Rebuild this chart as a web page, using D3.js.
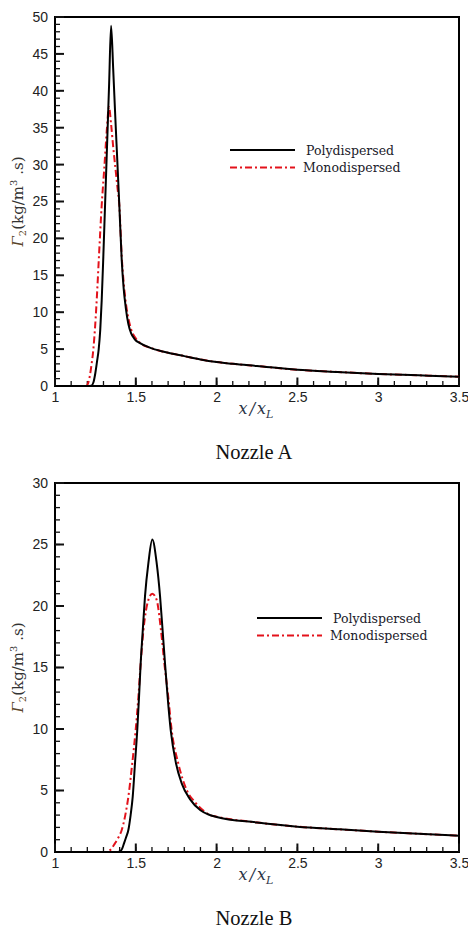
<!DOCTYPE html>
<html><head><meta charset="utf-8">
<script src="https://cdn.jsdelivr.net/npm/d3@7"></script>
<style>body{margin:0;background:#fff}svg{display:block}</style>
</head><body>
<script>
// ---- Data ----
const xTicks = [1, 1.5, 2, 2.5, 3, 3.5];
const yTicksA = [0, 5, 10, 15, 20, 25, 30, 35, 40, 45, 50];
const yTicksB = [0, 5, 10, 15, 20, 25, 30];
const seriesNames = ["Polydispersed", "Monodispersed"];
const titles = ["Nozzle A", "Nozzle B"];

// Nozzle A
const polyAx = [1.0,1.2,1.225,1.238,1.25,1.26,1.27,1.28,1.289,1.299,1.309,1.322,1.335,1.347,1.36,1.373,1.386,1.398,1.413,1.425,1.438,1.454,1.47,1.495,1.526,1.6,1.7,1.8,1.9,2.0,2.1,2.25,2.5,2.75,3.0,3.25,3.5];
const polyAy = [0,0,0.05,0.5,1.8,3.3,4.9,7.6,11.6,17.5,24,32.5,41,48.8,43,36.5,30.3,24.5,17,13.2,10.6,8.4,7.2,6.3,5.8,5.1,4.5,4.05,3.6,3.25,3.0,2.7,2.2,1.9,1.63,1.45,1.26];
const monoAx = [1.0,1.18,1.196,1.205,1.215,1.226,1.237,1.248,1.258,1.273,1.289,1.305,1.32,1.334,1.347,1.361,1.375,1.388,1.398,1.413,1.425,1.44,1.456,1.472,1.495,1.526,1.6,1.7,1.8,1.9,2.0,2.1,2.25,2.5,2.75,3.0,3.25,3.5];
const monoAy = [0,0,0.05,0.4,1.3,2.9,4.9,8,11.6,18,24.5,29.5,34.5,37.8,35.5,32.2,29.3,26.6,24.5,17.5,14,11,9,7.6,6.6,5.85,5.1,4.5,4.05,3.6,3.25,3.0,2.7,2.2,1.9,1.63,1.45,1.26];

// Nozzle B
const polyBx = [1.0,1.39,1.402,1.415,1.427,1.44,1.454,1.468,1.481,1.495,1.509,1.52,1.53,1.543,1.557,1.578,1.602,1.629,1.65,1.666,1.681,1.697,1.716,1.749,1.784,1.835,1.9,1.95,2.0,2.25,2.5,2.75,3.0,3.25,3.5];
const polyBy = [0,0,0.05,0.25,0.7,1.2,1.79,3.0,4.5,7.2,9.9,12.6,15.3,18.0,20.8,23.5,25.4,23.5,20.8,18.0,15.3,12.6,9.9,7.2,5.58,4.3,3.4,3.05,2.85,2.4,2.06,1.85,1.65,1.48,1.33];
const monoBx = [1.0,1.32,1.345,1.371,1.393,1.413,1.435,1.454,1.478,1.499,1.516,1.53,1.547,1.578,1.602,1.629,1.656,1.677,1.701,1.722,1.763,1.815,1.87,1.92,1.96,2.0,2.25,2.5,2.75,3.0,3.25,3.5];
const monoBy = [0,0,0.2,0.7,1.2,1.79,3.0,4.5,7.2,9.9,12.6,15.3,18.0,20.5,21.0,20.5,18.0,15.3,12.6,9.9,7.2,5.04,4.0,3.35,3.0,2.87,2.4,2.06,1.85,1.65,1.48,1.33];

// ---- Drawing ----
const W = 468, H = 929;
const svg = d3.select("body").append("svg").attr("width", W).attr("height", H);

const panels = [
  {top:17, bottom:386, yMax:50, yTicks:yTicksA, poly:[polyAx,polyAy], mono:[monoAx,monoAy], legX:230, legY:150, title:titles[0], titleY:459},
  {top:483, bottom:852, yMax:30, yTicks:yTicksB, poly:[polyBx,polyBy], mono:[monoBx,monoBy], legX:257, legY:618, title:titles[1], titleY:925}
];
const left = 55, right = 459;
const tickFont = "Liberation Sans, Arial, sans-serif";

panels.forEach(p => {
  const x = d3.scaleLinear().domain([1, 3.5]).range([left, right]);
  const y = d3.scaleLinear().domain([0, p.yMax]).range([p.bottom, p.top]);
  const g = svg.append("g");

  const xMinor = d3.range(0, 26).map(i => +(1 + i * 0.1).toFixed(2));
  const yMinor = d3.range(0, p.yMax + 1);

  // frame
  g.append("rect").attr("x", left).attr("y", p.top).attr("width", right - left).attr("height", p.bottom - p.top)
    .attr("fill", "none").attr("stroke", "#000").attr("stroke-width", 2);

  // inward ticks drawn with the scales
  const tk = g.append("g").attr("stroke", "#111");
  tk.selectAll("line.xm").data(xMinor).join("line").attr("class", "xm")
    .attr("x1", d => x(d)).attr("x2", d => x(d)).attr("y1", p.bottom).attr("y2", p.bottom - 5)
    .attr("stroke-width", 1.3);
  tk.selectAll("line.xM").data(xTicks).join("line").attr("class", "xM")
    .attr("x1", d => x(d)).attr("x2", d => x(d)).attr("y1", p.bottom).attr("y2", p.bottom - 8.5)
    .attr("stroke-width", 2);
  tk.selectAll("line.ym").data(yMinor).join("line").attr("class", "ym")
    .attr("y1", d => y(d)).attr("y2", d => y(d)).attr("x1", left).attr("x2", left + 5)
    .attr("stroke-width", 1.3);
  tk.selectAll("line.yM").data(p.yTicks).join("line").attr("class", "yM")
    .attr("y1", d => y(d)).attr("y2", d => y(d)).attr("x1", left).attr("x2", left + 9)
    .attr("stroke-width", 2);

  // tick labels via axes
  const xa = g.append("g").attr("transform", `translate(0,${p.bottom})`)
    .call(d3.axisBottom(x).tickValues(xTicks).tickSize(0).tickPadding(6).tickFormat(d3.format("")));
  xa.select(".domain").remove();
  xa.selectAll("text").attr("font-family", tickFont).attr("font-size", 14).attr("fill", "#222");

  const ya = g.append("g").attr("transform", `translate(${left},0)`)
    .call(d3.axisLeft(y).tickValues(p.yTicks).tickSize(0).tickPadding(7).tickFormat(d3.format("")));
  ya.select(".domain").remove();
  ya.selectAll("text").attr("font-family", tickFont).attr("font-size", 14).attr("fill", "#222");

  const line = d3.line().x(d => x(d[0])).y(d => y(d[1])).curve(d3.curveMonotoneX);
  const polyPts = p.poly[0].map((v, i) => [v, p.poly[1][i]]);
  const monoPts = p.mono[0].map((v, i) => [v, p.mono[1][i]]);

  g.append("path").datum(monoPts).attr("d", line).attr("fill", "none")
    .attr("stroke", "#e3121b").attr("stroke-width", 2).attr("stroke-dasharray", "7,3,2,3");
  g.append("path").datum(polyPts).attr("d", line).attr("fill", "none")
    .attr("stroke", "#000").attr("stroke-width", 2);

  // legend
  const lg = g.append("g");
  lg.append("line").attr("x1", p.legX).attr("x2", p.legX + 65).attr("y1", p.legY).attr("y2", p.legY)
    .attr("stroke", "#000").attr("stroke-width", 2);
  lg.append("line").attr("x1", p.legX).attr("x2", p.legX + 65).attr("y1", p.legY + 17.5).attr("y2", p.legY + 17.5)
    .attr("stroke", "#e3121b").attr("stroke-width", 2).attr("stroke-dasharray", "7,3,2,3");
  lg.append("text").attr("x", p.legX + 76).attr("y", p.legY + 4.5).text(seriesNames[0])
    .attr("font-family", "DejaVu Serif, serif").attr("font-size", 12.5).attr("fill", "#1a1a2a");
  lg.append("text").attr("x", p.legX + 73).attr("y", p.legY + 22).text(seriesNames[1])
    .attr("font-family", "DejaVu Serif, serif").attr("font-size", 12.5).attr("fill", "#1a1a2a");

  // x label
  const xl = g.append("text").attr("x", 256).attr("y", p.bottom + 27.5).attr("text-anchor", "middle")
    .attr("font-family", "DejaVu Serif, serif").attr("font-style", "italic").attr("font-size", 16).attr("fill", "#2d3447");
  xl.append("tspan").text("x");
  xl.append("tspan").text("/").attr("dx", 2);
  xl.append("tspan").text("x").attr("dx", 2);
  xl.append("tspan").text("L").attr("font-size", 11).attr("dy", 4);

  // y label
  const cy = (p.top + p.bottom) / 2;
  const yl = g.append("text").attr("transform", `translate(23,${cy}) rotate(-90)`).attr("text-anchor", "middle")
    .attr("font-family", "DejaVu Serif, serif").attr("font-size", 15).attr("fill", "#333");
  yl.append("tspan").text("Γ").attr("font-style", "italic").attr("fill", "#5a4528");
  yl.append("tspan").text("2").attr("font-size", 10).attr("dy", 3).attr("fill", "#5a4528");
  yl.append("tspan").text("(kg/m").attr("dy", -3);
  yl.append("tspan").text("3").attr("font-size", 10).attr("dy", -6);
  yl.append("tspan").text(" .s)").attr("dy", 6);

  // title
  g.append("text").attr("x", 254).attr("y", p.titleY).attr("text-anchor", "middle")
    .attr("font-family", "Liberation Serif, Times New Roman, serif").attr("font-size", 20.5).attr("fill", "#111")
    .text(p.title);
});
</script>
</body></html>
